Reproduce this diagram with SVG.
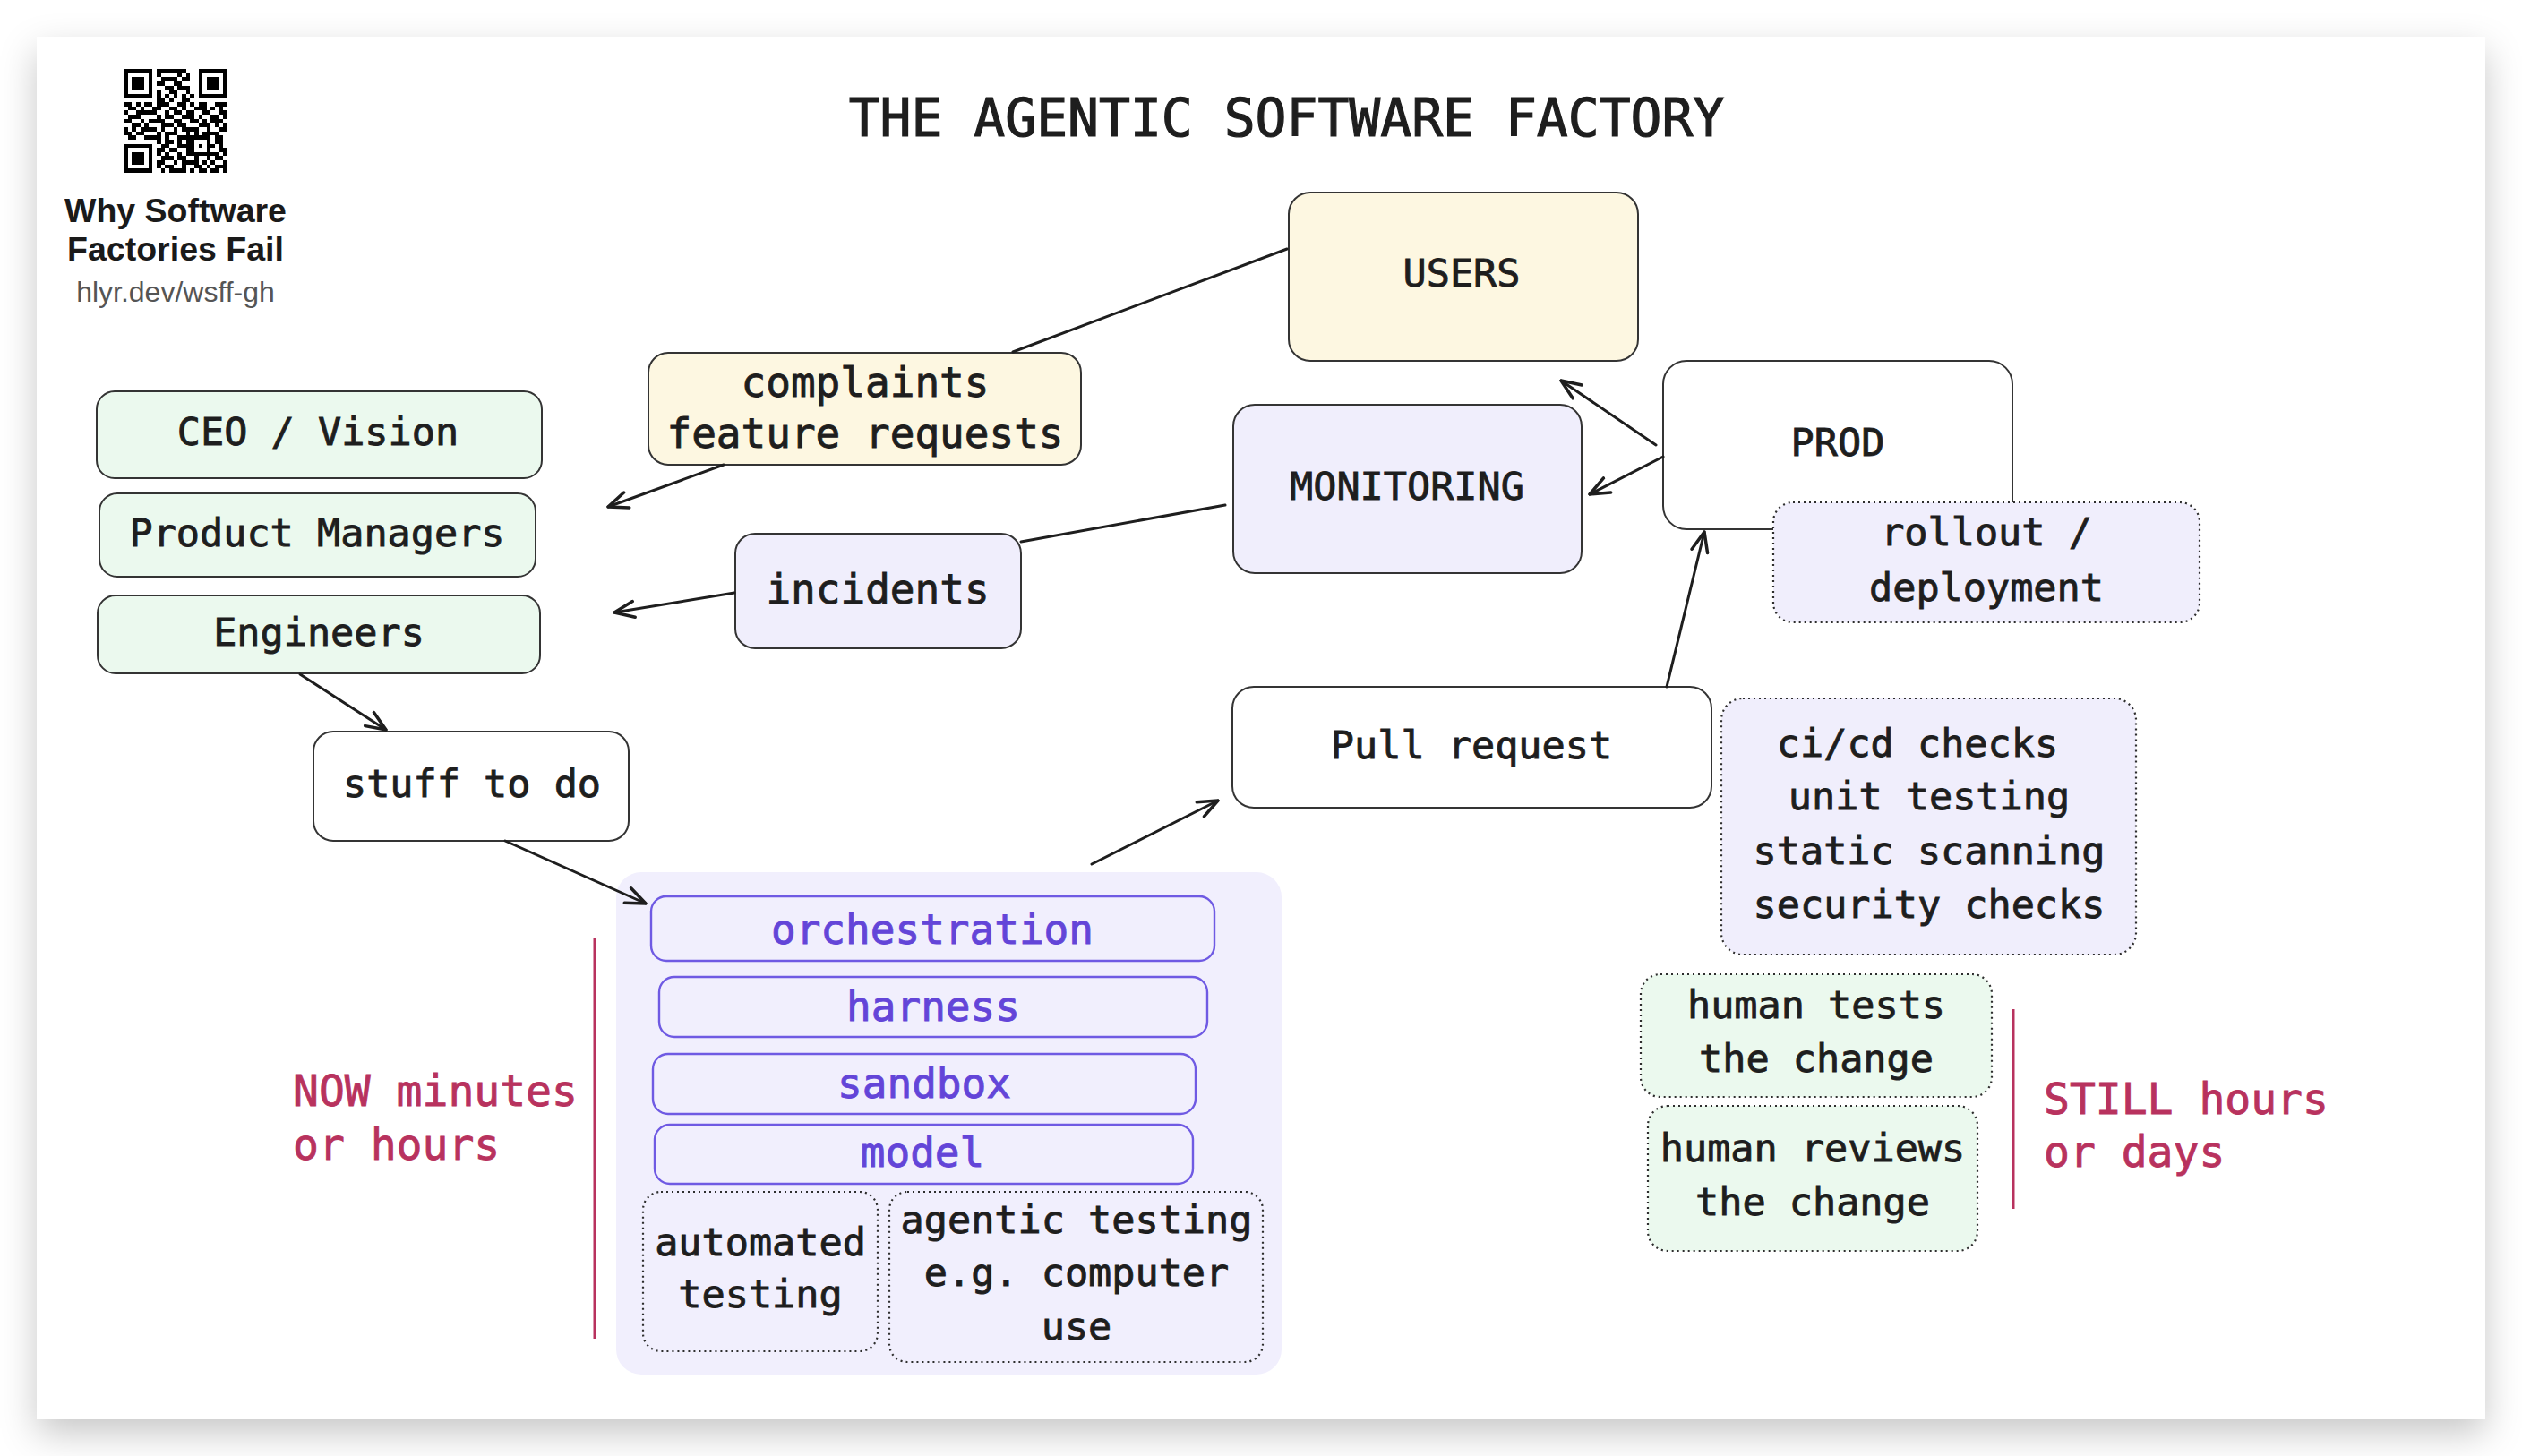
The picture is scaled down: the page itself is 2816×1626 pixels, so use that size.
<svg xmlns="http://www.w3.org/2000/svg" width="2816" height="1626" viewBox="0 0 2816 1626">
<defs>
<filter id="shadow" x="-5%" y="-5%" width="110%" height="115%">
<feDropShadow dx="0" dy="16" stdDeviation="20" flood-color="#000" flood-opacity="0.22"/>
</filter>
<marker id="arrow" viewBox="0 0 26 22" refX="24" refY="11" markerWidth="26" markerHeight="22" markerUnits="userSpaceOnUse" orient="auto">
<path d="M2,2 L24,11 L2,20" fill="none" stroke="#1e1e1e" stroke-width="3.5" stroke-linecap="round" stroke-linejoin="round"/>
</marker>
<style>
.box{stroke:#343434;stroke-width:2}
.green{fill:#ebf9ee}
.yellow{fill:#fdf7e1}
.lav{fill:#f0eefc}
.white{fill:#ffffff}
.dot{stroke:#2e2e2e;stroke-width:2.2;stroke-dasharray:2 4}
.pbox{fill:none;stroke:#6f5ae3;stroke-width:2.4}
.t{font-family:"DejaVu Sans Mono","Liberation Mono",monospace;font-size:43.5px;fill:#1e1e1e;stroke:#1e1e1e;stroke-width:0.9px;text-anchor:middle}
.tl{font-size:46px}
.pt{fill:#6345d8;stroke:#6345d8;font-size:46px}
.red{font-family:"DejaVu Sans Mono","Liberation Mono",monospace;font-size:48px;fill:#b8325e;stroke:#b8325e;stroke-width:0.9px}
.redline{stroke:#b8325e;stroke-width:3}
.conn{stroke:#1e1e1e;stroke-width:3;fill:none;stroke-linecap:round}
.sans{font-family:"Liberation Sans",Arial,sans-serif;text-anchor:middle}
</style>
</defs>
<rect x="0" y="0" width="2816" height="1626" fill="#ffffff"/>
<rect x="41" y="41" width="2734" height="1544" fill="#ffffff" filter="url(#shadow)"/>

<g id="qr-block">
<g transform="translate(138,77) scale(4.64)" shape-rendering="crispEdges">
<path fill="#000" d="M0,0h7v1h-7z M8,0h7v1h-7z M18,0h7v1h-7z
M0,1h1v1h-1z M6,1h1v1h-1z M8,1h1v1h-1z M13,1h1v1h-1z M15,1h1v1h-1z M18,1h1v1h-1z M24,1h1v1h-1z
M0,2h1v1h-1z M2,2h3v1h-3z M6,2h1v1h-1z M9,2h4v1h-4z M14,2h2v1h-2z M18,2h1v1h-1z M20,2h3v1h-3z M24,2h1v1h-1z
M0,3h1v1h-1z M2,3h3v1h-3z M6,3h1v1h-1z M8,3h2v1h-2z M12,3h2v1h-2z M18,3h1v1h-1z M20,3h3v1h-3z M24,3h1v1h-1z
M0,4h1v1h-1z M2,4h3v1h-3z M6,4h1v1h-1z M10,4h2v1h-2z M13,4h3v1h-3z M18,4h1v1h-1z M20,4h3v1h-3z M24,4h1v1h-1z
M0,5h1v1h-1z M6,5h1v1h-1z M8,5h1v1h-1z M11,5h2v1h-2z M15,5h1v1h-1z M18,5h1v1h-1z M24,5h1v1h-1z
M0,6h7v1h-7z M8,6h1v1h-1z M10,6h1v1h-1z M12,6h1v1h-1z M14,6h1v1h-1z M16,6h1v1h-1z M18,6h7v1h-7z
M8,7h2v1h-2z M11,7h1v1h-1z M14,7h2v1h-2z
M0,8h2v1h-2z M3,8h1v1h-1z M5,8h2v1h-2z M8,8h3v1h-3z M13,8h2v1h-2z M16,8h1v1h-1z M18,8h2v1h-2z M22,8h3v1h-3z
M1,9h2v1h-2z M4,9h1v1h-1z M7,9h2v1h-2z M11,9h2v1h-2z M14,9h1v1h-1z M17,9h3v1h-3z M21,9h1v1h-1z M23,9h1v1h-1z
M0,10h1v1h-1z M3,10h5v1h-5z M10,10h1v1h-1z M12,10h2v1h-2z M15,10h2v1h-2z M19,10h2v1h-2z M23,10h2v1h-2z
M1,11h3v1h-3z M8,11h1v1h-1z M10,11h2v1h-2z M14,11h3v1h-3z M18,11h1v1h-1z M21,11h2v1h-2z M24,11h1v1h-1z
M0,12h2v1h-2z M4,12h1v1h-1z M6,12h4v1h-4z M12,12h2v1h-2z M16,12h2v1h-2z M19,12h1v1h-1z M21,12h3v1h-3z
M2,13h2v1h-2z M5,13h1v1h-1z M9,13h3v1h-3z M13,13h2v1h-2z M18,13h3v1h-3z M22,13h1v1h-1z M24,13h1v1h-1z
M0,14h1v1h-1z M2,14h1v1h-1z M4,14h4v1h-4z M9,14h1v1h-1z M12,14h1v1h-1z M14,14h4v1h-4z M20,14h1v1h-1z M23,14h2v1h-2z
M0,15h2v1h-2z M3,15h2v1h-2z M8,15h1v1h-1z M10,15h3v1h-3z M15,15h1v1h-1z M17,15h1v1h-1z M19,15h4v1h-4z
M1,16h2v1h-2z M5,16h4v1h-4z M10,16h1v1h-1z M13,16h8v1h-8z M22,16h2v1h-2z
M8,17h1v1h-1z M10,17h2v1h-2z M13,17h1v1h-1z M15,17h2v1h-2z M20,17h1v1h-1z M22,17h2v1h-2z
M0,18h7v1h-7z M9,18h2v1h-2z M13,18h4v1h-4z M18,18h1v1h-1z M20,18h2v1h-2z M23,18h1v1h-1z
M0,19h1v1h-1z M6,19h1v1h-1z M8,19h2v1h-2z M11,19h2v1h-2z M15,19h2v1h-2z M20,19h1v1h-1z M23,19h2v1h-2z
M0,20h1v1h-1z M2,20h3v1h-3z M6,20h1v1h-1z M8,20h1v1h-1z M10,20h1v1h-1z M13,20h1v1h-1z M15,20h8v1h-8z M24,20h1v1h-1z
M0,21h1v1h-1z M2,21h3v1h-3z M6,21h1v1h-1z M9,21h3v1h-3z M13,21h2v1h-2z M17,21h1v1h-1z M20,21h1v1h-1z M22,21h2v1h-2z
M0,22h1v1h-1z M2,22h3v1h-3z M6,22h1v1h-1z M8,22h2v1h-2z M12,22h1v1h-1z M14,22h4v1h-4z M19,22h1v1h-1z M21,22h1v1h-1z M24,22h1v1h-1z
M0,23h1v1h-1z M6,23h1v1h-1z M8,23h1v1h-1z M10,23h2v1h-2z M14,23h1v1h-1z M17,23h2v1h-2z M20,23h1v1h-1z M22,23h3v1h-3z
M0,24h7v1h-7z M9,24h1v1h-1z M11,24h4v1h-4z M16,24h1v1h-1z M18,24h2v1h-2z M21,24h2v1h-2z M24,24h1v1h-1z"/>
</g>
<text class="sans" x="196" y="248" font-size="37.5" font-weight="bold" fill="#1a1a1a">Why Software</text>
<text class="sans" x="196" y="291" font-size="37.5" font-weight="bold" fill="#1a1a1a">Factories Fail</text>
<text class="sans" x="196" y="337" font-size="32" fill="#555555">hlyr.dev/wsff-gh</text>
</g>

<g id="title">
<text class="t" x="1436.5" y="152" style="font-size:58px;stroke-width:1.2px">THE AGENTIC SOFTWARE FACTORY</text>
</g>

<g id="ceo"><rect class="box green" x="108" y="437" width="497" height="97" rx="20"/><text class="t" x="355" y="497">CEO / Vision</text></g>
<g id="pm"><rect class="box green" x="111" y="551" width="487" height="93" rx="20"/><text class="t" x="354" y="610">Product Managers</text></g>
<g id="engineers"><rect class="box green" x="109" y="665" width="494" height="87" rx="20"/><text class="t" x="356" y="721">Engineers</text></g>
<g id="stuff"><rect class="box white" x="350" y="817" width="352" height="122" rx="22"/><text class="t" x="527" y="890">stuff to do</text></g>
<g id="complaints"><rect class="box yellow" x="724" y="394" width="483" height="125" rx="22"/><text class="t tl" x="966" y="443">complaints</text><text class="t tl" x="966" y="500">feature requests</text></g>
<g id="incidents"><rect class="box lav" x="821" y="596" width="319" height="128" rx="22"/><text class="t tl" x="980" y="674">incidents</text></g>
<g id="users"><rect class="box yellow" x="1439" y="215" width="390" height="188" rx="24"/><text class="t" x="1632" y="320">USERS</text></g>
<g id="monitoring"><rect class="box lav" x="1377" y="452" width="389" height="188" rx="24"/><text class="t" x="1571" y="558">MONITORING</text></g>
<g id="prod"><rect class="box white" x="1857" y="403" width="390" height="188" rx="26"/><text class="t" x="2052" y="509">PROD</text></g>
<g id="rollout"><rect class="dot lav" x="1980" y="561" width="476" height="134" rx="22"/><text class="t" x="2218" y="609">rollout /</text><text class="t" x="2218" y="671">deployment</text></g>
<g id="pull-request"><rect class="box white" x="1376" y="767" width="535" height="135" rx="24"/><text class="t" x="1643" y="847">Pull request</text></g>
<g id="checks"><rect class="dot lav" x="1922" y="780" width="463" height="286" rx="24"/>
<text class="t" x="2141" y="845">ci/cd checks</text>
<text class="t" x="2154" y="904">unit testing</text>
<text class="t" x="2154" y="965">static scanning</text>
<text class="t" x="2154" y="1025">security checks</text></g>
<g id="human-tests"><rect class="dot green" x="1832" y="1088" width="392" height="137" rx="22"/><text class="t" x="2028" y="1137">human tests</text><text class="t" x="2028" y="1197">the change</text></g>
<g id="human-reviews"><rect class="dot green" x="1840" y="1235" width="368" height="162" rx="22"/><text class="t" x="2024" y="1297">human reviews</text><text class="t" x="2024" y="1357">the change</text></g>
<g id="still-label"><line class="redline" x1="2248" y1="1127" x2="2248" y2="1350"/><text class="red" x="2282" y="1244">STILL hours</text><text class="red" x="2282" y="1303">or days</text></g>

<g id="agent-stack">
<rect x="688" y="974" width="743" height="561" rx="28" fill="#f1effd"/>
<g id="orchestration"><rect class="pbox" x="727" y="1001" width="629" height="72" rx="17"/><text class="t pt" x="1041" y="1054">orchestration</text></g>
<g id="harness"><rect class="pbox" x="736" y="1091" width="612" height="67" rx="17"/><text class="t pt" x="1042" y="1140">harness</text></g>
<g id="sandbox"><rect class="pbox" x="729" y="1177" width="606" height="67" rx="17"/><text class="t pt" x="1032" y="1226">sandbox</text></g>
<g id="model"><rect class="pbox" x="731" y="1256" width="601" height="66" rx="17"/><text class="t pt" x="1030" y="1303">model</text></g>
<g id="automated-testing"><rect class="dot" fill="none" x="718" y="1331" width="262" height="178" rx="20"/><text class="t" x="849" y="1402">automated</text><text class="t" x="849" y="1460">testing</text></g>
<g id="agentic-testing"><rect class="dot" fill="none" x="993" y="1331" width="417" height="190" rx="20"/><text class="t" x="1202" y="1377">agentic testing</text><text class="t" x="1202" y="1436">e.g. computer</text><text class="t" x="1202" y="1496">use</text></g>
</g>
<g id="now-label"><line class="redline" x1="664" y1="1047" x2="664" y2="1495"/><text class="red" x="327" y="1235">NOW minutes</text><text class="red" x="327" y="1295">or hours</text></g>

<g id="connectors">
<line class="conn" x1="1437" y1="278" x2="1131" y2="393"/>
<line class="conn" x1="808" y1="519" x2="679" y2="566" marker-end="url(#arrow)"/>
<line class="conn" x1="1368" y1="564" x2="1140" y2="605"/>
<line class="conn" x1="820" y1="662" x2="686" y2="684" marker-end="url(#arrow)"/>
<line class="conn" x1="335" y1="753" x2="431" y2="815" marker-end="url(#arrow)"/>
<line class="conn" x1="564" y1="939" x2="721" y2="1009" marker-end="url(#arrow)"/>
<line class="conn" x1="1219" y1="965" x2="1360" y2="894" marker-end="url(#arrow)"/>
<line class="conn" x1="1861" y1="767" x2="1903" y2="594" marker-end="url(#arrow)"/>
<line class="conn" x1="1849" y1="497" x2="1743" y2="425" marker-end="url(#arrow)"/>
<line class="conn" x1="1857" y1="510" x2="1775" y2="552" marker-end="url(#arrow)"/>
</g>
</svg>
